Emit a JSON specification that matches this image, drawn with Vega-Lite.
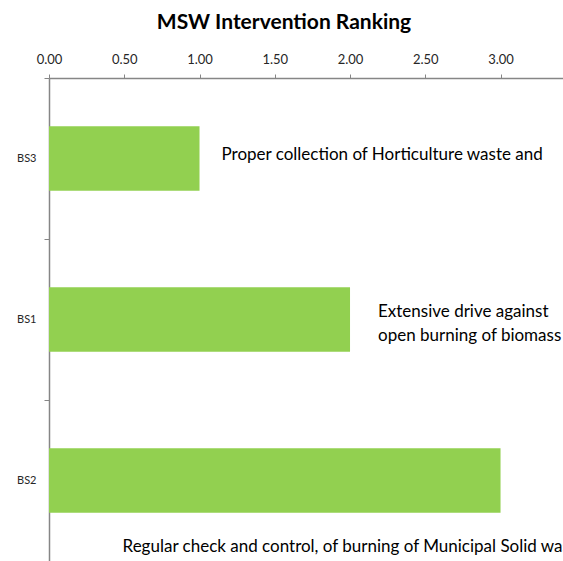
{
  "$schema": "https://vega.github.io/schema/vega-lite/v6.json",
  "width": 514,
  "height": 483,
  "autosize": {"type": "none"},
  "padding": {"left": 49, "top": 78, "right": 0, "bottom": 0},
  "background": "white",
  "title": {
    "text": "MSW Intervention Ranking",
    "font": "Lato",
    "fontSize": 21,
    "fontWeight": "bold",
    "color": "#000000",
    "anchor": "middle",
    "dx": -22,
    "offset": 20
  },
  "config": {
    "view": {"stroke": null},
    "font": "Lato"
  },
  "data": {
    "values": [
      {"option": "BS3", "rank": 1, "label": ["Proper collection of Horticulture waste and"]},
      {"option": "BS1", "rank": 2, "label": ["Extensive drive against", "open burning of biomass"]},
      {"option": "BS2", "rank": 3, "label": ["Regular check and control, of burning of Municipal Solid waste"]}
    ]
  },
  "encoding": {
    "y": {
      "field": "option",
      "type": "nominal",
      "sort": ["BS3", "BS1", "BS2"],
      "scale": {"paddingInner": 0, "paddingOuter": 0},
      "axis": {
        "title": null,
        "tickBand": "extent",
        "tickSize": 5,
        "tickColor": "#868686",
        "domainColor": "#868686",
        "domainWidth": 1.5,
        "labelFont": "Lato",
        "labelFontSize": 11,
        "labelColor": "#262626",
        "labelPadding": 8
      }
    },
    "x": {
      "field": "rank",
      "type": "quantitative",
      "scale": {"domain": [0, 3.415], "nice": false, "zero": true},
      "axis": {
        "orient": "top",
        "title": null,
        "values": [0, 0.5, 1, 1.5, 2, 2.5, 3],
        "format": ".2f",
        "grid": false,
        "tickSize": 4,
        "tickColor": "#868686",
        "domainColor": "#868686",
        "domainWidth": 1.5,
        "labelFont": "Lato",
        "labelFontSize": 13,
        "labelColor": "#262626",
        "labelPadding": 8,
        "labelFlush": false
      }
    }
  },
  "layer": [
    {
      "mark": {"type": "bar", "color": "#92D050", "height": {"band": 0.4}}
    },
    {
      "transform": [{"filter": "datum.option === 'BS3'"}],
      "mark": {"type": "text", "align": "left", "baseline": "middle", "dx": 22, "dy": -4, "fontSize": 17, "font": "Lato", "color": "#000000", "clip": true},
      "encoding": {"text": {"field": "label"}}
    },
    {
      "transform": [{"filter": "datum.option === 'BS1'"}],
      "mark": {"type": "text", "align": "left", "baseline": "middle", "dx": 28, "dy": -8, "lineHeight": 24, "fontSize": 17, "font": "Lato", "color": "#000000", "clip": true},
      "encoding": {"text": {"field": "label"}}
    },
    {
      "transform": [{"filter": "datum.option === 'BS2'"}],
      "mark": {"type": "text", "align": "left", "baseline": "middle", "dx": -378, "dy": 66, "fontSize": 17, "font": "Lato", "color": "#000000", "clip": true},
      "encoding": {"text": {"field": "label"}}
    }
  ]
}
